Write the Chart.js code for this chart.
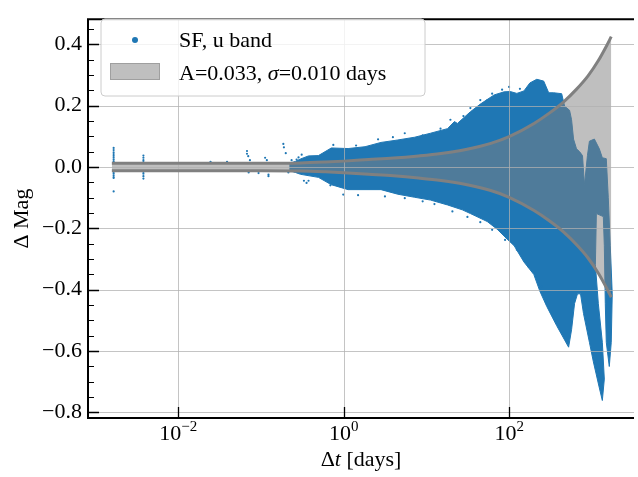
<!DOCTYPE html>
<html>
<head>
<meta charset="utf-8">
<script src="https://cdn.jsdelivr.net/npm/chart.js@4.4.0/dist/chart.umd.min.js"></script>
<style>
  html, body { margin: 0; padding: 0; background: #fff; }
</style>
</head>
<body>
<canvas id="sfChart" width="638" height="477"></canvas>
<script>
'use strict';

// model band (A=0.033, sigma=0.010 days)
let bandDays = [0.00157, 0.01, 0.1, 0.3, 0.6, 1.0, 2.0, 4.0, 8.0, 15, 30, 60, 100, 200, 300, 450, 650, 900, 1200, 1500, 1718];
let bandUpper = [0.012, 0.012, 0.012, 0.013, 0.016, 0.019, 0.024, 0.029, 0.036, 0.044, 0.057, 0.077, 0.099, 0.142, 0.174, 0.211, 0.253, 0.297, 0.347, 0.394, 0.425];
let bandLower = [-0.012, -0.012, -0.012, -0.013, -0.016, -0.019, -0.024, -0.029, -0.036, -0.044, -0.057, -0.077, -0.099, -0.142, -0.174, -0.211, -0.253, -0.297, -0.347, -0.394, -0.425];

// outline of the dense SF cloud (upper edge left->right, then back along the lower edge)
let cloudDays = [0.22, 0.26, 0.30, 0.375, 0.494, 0.708, 1.13, 1.81, 2.82, 4.51, 7.21, 11.2, 18.0, 21.8, 23.7, 34.0, 44.8, 65.9, 86.9, 103, 124, 151, 178, 216, 262, 301, 346, 432, 469, 538, 569, 601, 653, 710, 771, 815, 885, 935, 1074, 1233, 1340, 1496, 1581, 1671, 1766, 1718, 1626, 1496, 1455, 1416, 1377, 1135, 1104, 1199, 1340, 1416, 1340, 1233, 1045, 935, 793, 730, 671, 618, 569, 524, 376, 285, 235, 199, 151, 115, 94.4, 71.6, 54.3, 34.0, 27.2, 18.0, 11.2, 7.21, 4.51, 2.82, 1.13, 0.708, 0.494, 0.30, 0.26, 0.22];
let cloudMag = [0.012, 0.018, 0.026, 0.036, 0.037, 0.062, 0.060, 0.066, 0.080, 0.088, 0.097, 0.110, 0.125, 0.148, 0.142, 0.180, 0.205, 0.235, 0.245, 0.246, 0.240, 0.248, 0.274, 0.286, 0.280, 0.242, 0.242, 0.239, 0.198, 0.185, 0.154, 0.091, 0.059, 0.050, 0.037, -0.058, 0.037, 0.084, 0.091, 0.059, 0.030, 0.027, -0.099, -0.257, -0.414, -0.572, -0.651, -0.572, -0.446, -0.257, -0.162, -0.152, -0.319, -0.446, -0.572, -0.692, -0.762, -0.721, -0.636, -0.572, -0.478, -0.414, -0.414, -0.446, -0.531, -0.588, -0.518, -0.455, -0.405, -0.351, -0.310, -0.257, -0.235, -0.203, -0.178, -0.152, -0.140, -0.124, -0.108, -0.099, -0.089, -0.074, -0.074, -0.058, -0.034, -0.024, -0.018, -0.012];

// loose SF points: short lags and the ragged edge of the cloud
let sparseDays = [0.00165, 0.00165, 0.00165, 0.00165, 0.00165, 0.00165, 0.00165, 0.00165, 0.00165, 0.00165, 0.00165, 0.00165, 0.00165, 0.00165,
  0.00378, 0.00378, 0.00378, 0.00378, 0.00378, 0.00378, 0.00378, 0.00378,
  0.0245, 0.0388, 0.0676, 0.0676, 0.0700, 0.0734, 0.0708, 0.0933, 0.112, 0.1175, 0.123, 0.123,
  0.186, 0.189, 0.199, 0.214, 0.234, 0.269, 0.284, 0.310, 0.330, 0.355, 0.375,
  0.748, 1.41, 2.60, 3.93, 5.47, 9.0, 14.8, 19.5, 28.0, 34.0, 44.8, 54.3, 62.3, 82.2, 99.8, 135,
  0.689, 0.986, 1.49, 3.15, 5.47, 9.0, 12.5, 20.6, 31.3, 44.8, 62.3, 89.3, 124, 173, 248];
let sparseMag = [0.062, 0.055, 0.048, 0.042, 0.036, 0.030, 0.024, 0.018, -0.016, -0.021, -0.027, -0.033, -0.036, -0.080,
  0.037, 0.030, 0.022, 0.016, -0.016, -0.022, -0.030, -0.038,
  0.017, 0.017, 0.052, 0.043, 0.035, 0.022, -0.018, -0.020, 0.030, 0.022, -0.025, -0.030,
  0.075, 0.064, 0.045, -0.018, 0.022, 0.024, 0.031, 0.040, -0.045, -0.052, -0.045,
  0.072, 0.070, 0.090, 0.097, 0.110, 0.103, 0.125, 0.154, 0.166, 0.192, 0.218, 0.217, 0.239, 0.252, 0.261, 0.255,
  -0.060, -0.090, -0.092, -0.096, -0.102, -0.112, -0.121, -0.145, -0.163, -0.180, -0.205, -0.238, -0.270, -0.326, -0.390];

let magTicks = [-0.8, -0.6, -0.4, -0.2, 0.0, 0.2, 0.4];
let magMinorTicks = [-0.75, -0.7, -0.65, -0.55, -0.5, -0.45, -0.35, -0.3, -0.25, -0.15, -0.1, -0.05, 0.05, 0.1, 0.15, 0.25, 0.3, 0.35, 0.45];
let dayTicks = [0.01, 1, 100];
let dayTickExponents = ['\u22122', '0', '2'];

let serif = '"Liberation Serif", "DejaVu Serif", serif';
let blue = '#1f77b4';

function toPoints(xs, ys) {
  return xs.map((x, i) => ({ x: x, y: ys[i] }));
}

function formatMag(v) {
  let s = (Math.round(v * 10) / 10).toFixed(1);
  return s.replace('-', '\u2212');
}

function drawGrid(chart) {
  let ctx = chart.ctx;
  let a = chart.chartArea;
  let xs = chart.scales.x;
  let ys = chart.scales.y;
  ctx.save();
  ctx.strokeStyle = 'rgba(176,176,176,0.75)';
  ctx.lineWidth = 1;
  ctx.beginPath();
  dayTicks.forEach(v => {
    let px = Math.round(xs.getPixelForValue(v)) + 0.5;
    ctx.moveTo(px, a.top);
    ctx.lineTo(px, a.bottom);
  });
  magTicks.forEach(v => {
    let py = Math.round(ys.getPixelForValue(v)) + 0.5;
    ctx.moveTo(a.left, py);
    ctx.lineTo(a.right, py);
  });
  ctx.stroke();
  ctx.restore();
}

function drawPieces(ctx, pieces, x, y, align) {
  let widths = pieces.map(p => { ctx.font = p.font; return ctx.measureText(p.text).width; });
  let total = widths.reduce((s, w) => s + w, 0);
  let cx = align === 'center' ? x - total / 2 : x;
  pieces.forEach((p, i) => {
    ctx.font = p.font;
    ctx.fillText(p.text, cx, y + (p.dy || 0));
    cx += widths[i];
  });
}

function drawLegend(ctx) {
  // frame
  let x0 = 101, y0 = 19, w = 324, h = 77, r = 4;
  ctx.save();
  ctx.beginPath();
  ctx.moveTo(x0 + r, y0);
  ctx.arcTo(x0 + w, y0, x0 + w, y0 + h, r);
  ctx.arcTo(x0 + w, y0 + h, x0, y0 + h, r);
  ctx.arcTo(x0, y0 + h, x0, y0, r);
  ctx.arcTo(x0, y0, x0 + w, y0, r);
  ctx.closePath();
  ctx.fillStyle = 'rgba(255,255,255,0.8)';
  ctx.fill();
  ctx.strokeStyle = '#cccccc';
  ctx.lineWidth = 1;
  ctx.stroke();

  // scatter marker
  ctx.beginPath();
  ctx.arc(135, 40, 3, 0, Math.PI * 2);
  ctx.fillStyle = blue;
  ctx.fill();

  // band patch
  ctx.fillStyle = 'rgba(128,128,128,0.5)';
  ctx.fillRect(110, 63, 50, 17);
  ctx.strokeStyle = 'rgba(128,128,128,0.5)';
  ctx.strokeRect(110.5, 63.5, 49, 16);

  ctx.fillStyle = '#000';
  ctx.textBaseline = 'alphabetic';
  ctx.textAlign = 'left';
  let f = '22px ' + serif;
  let fi = 'italic 22px ' + serif;
  drawPieces(ctx, [{ text: 'SF, u band', font: f }], 179, 47, 'left');
  drawPieces(ctx, [
    { text: 'A=0.033, ', font: f },
    { text: '\u03c3', font: fi },
    { text: '=0.010 days', font: f }
  ], 179, 80, 'left');
  ctx.restore();
}

const frame = {
  id: 'frame',
  beforeDatasetDraw(chart, args) {
    if (args.index === 1) {
      drawGrid(chart);
    }
  },
  afterDatasetsDraw(chart) {
    let ctx = chart.ctx;
    let a = chart.chartArea;
    let xs = chart.scales.x;
    let ys = chart.scales.y;
    ctx.save();

    // spines
    ctx.strokeStyle = '#000';
    ctx.lineWidth = 2;
    ctx.beginPath();
    ctx.moveTo(a.left, a.top);
    ctx.lineTo(a.left, a.bottom);
    ctx.moveTo(a.left - 1, a.bottom);
    ctx.lineTo(a.right, a.bottom);
    ctx.moveTo(a.left - 1, a.top);
    ctx.lineTo(a.right, a.top);
    ctx.stroke();

    // inward ticks
    ctx.lineWidth = 1.3;
    ctx.beginPath();
    magTicks.forEach(v => {
      let py = Math.round(ys.getPixelForValue(v)) + 0.5;
      ctx.moveTo(a.left, py);
      ctx.lineTo(a.left + 11, py);
    });
    dayTicks.forEach(v => {
      let px = Math.round(xs.getPixelForValue(v)) + 0.5;
      ctx.moveTo(px, a.bottom);
      ctx.lineTo(px, a.bottom - 11);
    });
    ctx.stroke();
    ctx.lineWidth = 1;
    ctx.beginPath();
    magMinorTicks.forEach(v => {
      let py = Math.round(ys.getPixelForValue(v)) + 0.5;
      ctx.moveTo(a.left, py);
      ctx.lineTo(a.left + 6, py);
    });
    ctx.stroke();

    // x tick labels 10^n
    ctx.fillStyle = '#000';
    ctx.textBaseline = 'alphabetic';
    ctx.textAlign = 'left';
    dayTicks.forEach((v, i) => {
      let px = xs.getPixelForValue(v);
      drawPieces(ctx, [
        { text: '10', font: '22px ' + serif },
        { text: dayTickExponents[i], font: '15px ' + serif, dy: -9 }
      ], px, 440, 'center');
    });

    // axis titles
    drawPieces(ctx, [
      { text: '\u0394', font: '22px ' + serif },
      { text: 't', font: 'italic 22px ' + serif },
      { text: ' [days]', font: '22px ' + serif }
    ], (a.left + a.right) / 2, 466, 'center');

    ctx.save();
    ctx.translate(28, (a.top + a.bottom) / 2);
    ctx.rotate(-Math.PI / 2);
    ctx.textAlign = 'center';
    ctx.font = '22px ' + serif;
    ctx.fillText('\u0394 Mag', 0, 0);
    ctx.restore();

    drawLegend(ctx);
    ctx.restore();
  }
};

let ctx = document.getElementById('sfChart').getContext('2d');
let sfChart = new Chart(ctx, {
  type: 'line',
  data: {
    datasets: [
      {
        label: 'band upper edge',
        data: toPoints(bandDays, bandUpper),
        borderColor: '#808080',
        borderWidth: 3,
        pointRadius: 0,
        cubicInterpolationMode: 'monotone',
        fill: false
      },
      {
        label: 'band lower edge',
        data: toPoints(bandDays, bandLower),
        borderColor: '#808080',
        borderWidth: 3,
        pointRadius: 0,
        cubicInterpolationMode: 'monotone',
        fill: false
      },
      {
        label: 'A=0.033, \u03c3=0.010 days',
        data: toPoints(bandDays, bandUpper),
        borderWidth: 0,
        pointRadius: 0,
        cubicInterpolationMode: 'monotone',
        backgroundColor: 'rgba(128,128,128,0.5)',
        fill: '+1'
      },
      {
        label: 'band fill bottom',
        data: toPoints(bandDays, bandLower),
        borderWidth: 0,
        pointRadius: 0,
        cubicInterpolationMode: 'monotone',
        fill: false
      },
      {
        label: 'SF, u band (loose points)',
        data: toPoints(sparseDays, sparseMag),
        showLine: false,
        pointRadius: 1.1,
        pointBorderWidth: 0,
        pointBackgroundColor: blue
      },
      {
        label: 'SF, u band',
        data: toPoints(cloudDays, cloudMag),
        borderColor: blue,
        borderWidth: 1,
        backgroundColor: blue,
        pointRadius: 0,
        fill: 'shape'
      }
    ]
  },
  options: {
    responsive: false,
    animation: false,
    events: [],
    layout: { padding: { top: 6, right: 0, bottom: 0, left: 0 } },
    plugins: {
      legend: { display: false },
      tooltip: { enabled: false }
    },
    scales: {
      x: {
        type: 'logarithmic',
        min: 8.08e-4,
        max: 3236,
        grid: { display: false, drawTicks: false },
        border: { display: false },
        ticks: { display: false },
        afterBuildTicks: s => { s.ticks = dayTicks.map(v => ({ value: v })); },
        afterFit: s => { s.height = 59; }
      },
      y: {
        type: 'linear',
        min: -0.819,
        max: 0.482,
        grid: { display: false, drawTicks: false },
        border: { display: false },
        ticks: {
          color: '#000',
          padding: 6,
          font: { family: serif, size: 22 },
          callback: v => formatMag(v)
        },
        afterBuildTicks: s => { s.ticks = magTicks.map(v => ({ value: v })); },
        afterFit: s => { s.width = 88; }
      }
    }
  },
  plugins: [frame]
});
</script>
</body>
</html>
